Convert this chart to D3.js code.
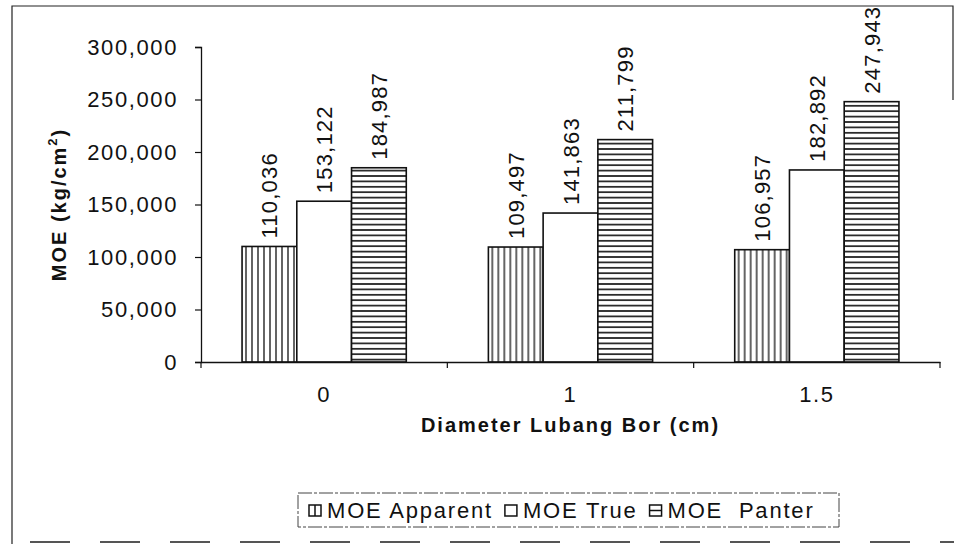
<!DOCTYPE html>
<html>
<head>
<meta charset="utf-8">
<script src="https://cdn.jsdelivr.net/npm/d3@7"></script>
<style>
  html, body { margin: 0; padding: 0; background: #fff; }
  svg { display: block; }
  text { font-family: Arial, "Liberation Sans", sans-serif; fill: #111; }
</style>
</head>
<body>
<svg id="chart" width="954" height="544"></svg>
<script>
// ---- data ----
const categories = ["0", "1", "1.5"];
const seriesNames = ["MOE Apparent", "MOE True", "MOE  Panter"];
const moeApparent = [110036, 109497, 106957];
const moeTrue = [153122, 141863, 182892];
const moePanter = [184987, 211799, 247943];
const yTicks = [0, 50000, 100000, 150000, 200000, 250000, 300000];
const yTitle = "MOE (kg/cm";
const xTitle = "Diameter Lubang Bor (cm)";

const seriesValues = [moeApparent, moeTrue, moePanter];
const fillIds = ["url(#vlines)", "#fff", "url(#hlines)"];

const svg = d3.select("#chart");
const W = 954, H = 544;
const plot = { left: 201, right: 940, top: 47, bottom: 362 };

// patterns
const defs = svg.append("defs");
const pv = defs.append("pattern").attr("id", "vlines").attr("patternUnits", "userSpaceOnUse")
  .attr("width", 6).attr("height", 10);
pv.append("rect").attr("width", 6).attr("height", 10).attr("fill", "#fff");
pv.append("line").attr("x1", 3).attr("x2", 3).attr("y1", 0).attr("y2", 10)
  .attr("stroke", "#111").attr("stroke-width", 1.3);
const ph = defs.append("pattern").attr("id", "hlines").attr("patternUnits", "userSpaceOnUse")
  .attr("width", 10).attr("height", 5.4).attr("y", 0.5);
ph.append("rect").attr("width", 10).attr("height", 5.4).attr("fill", "#fff");
ph.append("line").attr("x1", 0).attr("x2", 10).attr("y1", 2.7).attr("y2", 2.7)
  .attr("stroke", "#111").attr("stroke-width", 1.6);

// outer frame (chart area border)
svg.append("path")
  .attr("d", `M12,${H} V6 H953 V100`)
  .attr("fill", "none").attr("stroke", "#222").attr("stroke-width", 1.2);
svg.append("line").attr("x1", 30).attr("x2", 954).attr("y1", 542).attr("y2", 542)
  .attr("stroke", "#555").attr("stroke-width", 2).attr("stroke-dasharray", "40,30");

// scales
const y = d3.scaleLinear().domain([0, 300000]).range([plot.bottom, plot.top]);
const x = d3.scaleBand().domain(categories).range([plot.left, plot.right]).paddingInner(0).paddingOuter(0);
const xs = d3.scaleBand().domain(d3.range(seriesNames.length)).range([0, x.bandwidth()])
  .paddingInner(0).paddingOuter(0.75);

const fmt = d3.format(",");

// y axis
const yAxis = svg.append("g").attr("transform", `translate(${plot.left},0)`)
  .call(d3.axisLeft(y).tickValues(yTicks).tickFormat(fmt).tickSize(6).tickSizeOuter(6).tickPadding(17));
yAxis.select(".domain").attr("stroke", "#111").attr("stroke-width", 1.3);
yAxis.selectAll(".tick line").attr("stroke", "#111").attr("stroke-width", 1.2);
yAxis.selectAll(".tick text").attr("font-size", 22).attr("letter-spacing", "1.6px")
  .attr("fill", "#111").attr("font-family", "Arial, 'Liberation Sans', sans-serif");

// bars
const groups = svg.append("g").selectAll("g").data(categories).join("g")
  .attr("transform", d => `translate(${x(d)},0)`);
groups.selectAll("rect").data((c, ci) => seriesValues.map((s, si) => ({ si, v: s[ci] }))).join("rect")
  .attr("x", d => xs(d.si))
  .attr("width", xs.bandwidth())
  .attr("y", d => y(d.v))
  .attr("height", d => y(0) - y(d.v))
  .attr("fill", d => fillIds[d.si])
  .attr("stroke", "#111").attr("stroke-width", 1.6);

// value labels
groups.selectAll("text.val").data((c, ci) => seriesValues.map((s, si) => ({ si, v: s[ci] }))).join("text")
  .attr("class", "val")
  .attr("transform", d => `translate(${xs(d.si) + xs.bandwidth() / 2 + 8},${y(d.v) - 8}) rotate(-90)`)
  .attr("text-anchor", "start")
  .attr("font-size", 22).attr("letter-spacing", "1.2px")
  .text(d => fmt(d.v));

// x axis
const xAxis = svg.append("g").attr("transform", `translate(0,${plot.bottom})`)
  .call(d3.axisBottom(x).tickSize(0).tickPadding(24).tickSizeOuter(0));
xAxis.select(".domain").attr("stroke", "#111").attr("stroke-width", 1.3);
xAxis.selectAll(".tick text").attr("font-size", 22).attr("letter-spacing", "1.6px")
  .attr("fill", "#111").attr("font-family", "Arial, 'Liberation Sans', sans-serif");
// boundary tick marks between categories
const edges = categories.map(c => x(c)).concat([x(categories[categories.length - 1]) + x.bandwidth()]);
svg.append("g").selectAll("line").data(edges).join("line")
  .attr("x1", d => d).attr("x2", d => d)
  .attr("y1", plot.bottom).attr("y2", plot.bottom + 6)
  .attr("stroke", "#111").attr("stroke-width", 1.2);

// axis titles
const yt = svg.append("text")
  .attr("transform", `translate(66,${(plot.top + plot.bottom) / 2}) rotate(-90)`)
  .attr("text-anchor", "middle").attr("font-size", 20).attr("font-weight", "bold")
  .attr("letter-spacing", "2px");
yt.append("tspan").text(yTitle);
yt.append("tspan").attr("font-size", 13).attr("dy", -9).text("2");
yt.append("tspan").attr("dy", 9).text(")");

svg.append("text")
  .attr("x", (plot.left + plot.right) / 2).attr("y", 432)
  .attr("text-anchor", "middle").attr("font-size", 20).attr("font-weight", "bold")
  .attr("letter-spacing", "2px")
  .text(xTitle);

// legend
const legend = svg.append("g");
legend.append("rect").attr("x", 298).attr("y", 493).attr("width", 541).attr("height", 34)
  .attr("fill", "#fff").attr("stroke", "#444").attr("stroke-width", 1).attr("stroke-dasharray", "14,2,3,2");
let lx = 309;
seriesNames.forEach((name, i) => {
  const g = legend.append("g").attr("transform", `translate(${lx},0)`);
  g.append("rect").attr("x", 0).attr("y", 505).attr("width", 12).attr("height", 11)
    .attr("fill", "#fff").attr("stroke", "#111").attr("stroke-width", 1.5);
  if (i === 0) g.append("line").attr("x1", 6).attr("x2", 6).attr("y1", 505).attr("y2", 516).attr("stroke", "#111").attr("stroke-width", 1.5);
  if (i === 2) g.append("line").attr("x1", 0).attr("x2", 12).attr("y1", 510.5).attr("y2", 510.5).attr("stroke", "#111").attr("stroke-width", 1.5);
  const t = g.append("text").attr("x", 18).attr("y", 518).attr("font-size", 22)
    .attr("letter-spacing", "1.8px").style("white-space", "pre").text(name);
  lx += 18 + t.node().getComputedTextLength() + 12;
});
</script>
</body>
</html>
